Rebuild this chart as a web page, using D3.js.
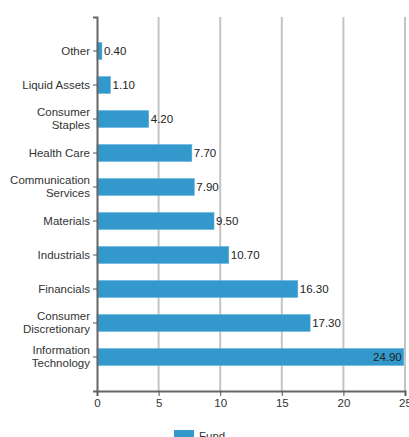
<!DOCTYPE html>
<html>
<head>
<meta charset="utf-8">
<script src="https://cdn.jsdelivr.net/npm/d3@7"></script>
<style>
  body { margin: 0; background: #fff; }
  text { font-family: "Liberation Sans", Arial, sans-serif; }
</style>
</head>
<body>
<div id="chart"></div>
<script>
const categories = ["Other", "Liquid Assets", "Consumer Staples", "Health Care",
  "Communication Services", "Materials", "Industrials", "Financials",
  "Consumer Discretionary", "Information Technology"];
const fundValues = [0.40, 1.10, 4.20, 7.70, 7.90, 9.50, 10.70, 16.30, 17.30, 24.90];
const xTicks = [0, 5, 10, 15, 20, 25];
const seriesName = "Fund";

const width = 409, height = 437;
const margin = {top: 17, right: 4, bottom: 46, left: 97};
const fontSize = 11.5;

const svg = d3.select("#chart")
  .append("svg")
  .attr("width", width)
  .attr("height", height);

const x = d3.scaleLinear()
  .domain([0, 25])
  .range([margin.left, width - margin.right]);

const y = d3.scaleBand()
  .domain(categories)
  .range([margin.top, height - margin.bottom])
  .paddingInner(0.5)
  .paddingOuter(0.75);

// grid lines
svg.append("g")
  .selectAll("line")
  .data(xTicks.slice(1))
  .join("line")
    .attr("x1", d => x(d))
    .attr("x2", d => x(d))
    .attr("y1", margin.top)
    .attr("y2", height - margin.bottom)
    .attr("stroke", "#c4c4c4")
    .attr("stroke-width", 2);

// bars
svg.append("g")
  .selectAll("rect")
  .data(fundValues)
  .join("rect")
    .attr("x", x(0))
    .attr("y", (d, i) => y(categories[i]))
    .attr("width", d => x(d) - x(0))
    .attr("height", y.bandwidth())
    .attr("fill", "#3399cc")
    .attr("stroke", "#5fb0dc")
    .attr("stroke-width", 0.5);

// value labels (inside the bar when it would run off the edge)
const inside = d => x(d) + 2 > width - 40;
svg.append("g")
  .selectAll("text")
  .data(fundValues)
  .join("text")
    .attr("x", d => inside(d) ? x(d) - 2 : x(d) + 2)
    .attr("y", (d, i) => y(categories[i]) + y.bandwidth() / 2)
    .attr("dy", "0.35em")
    .attr("text-anchor", d => inside(d) ? "end" : "start")
    .attr("font-size", fontSize)
    .attr("fill", "#222")
    .text(d => d.toFixed(2));

// axes
const xAxis = svg.append("g")
  .attr("transform", `translate(0,${height - margin.bottom})`)
  .call(d3.axisBottom(x).tickValues(xTicks).tickSize(5).tickPadding(3));

const yAxis = svg.append("g")
  .attr("transform", `translate(${margin.left},0)`)
  .call(d3.axisLeft(y).tickSize(4).tickPadding(3));

[xAxis, yAxis].forEach(g => {
  g.selectAll(".domain").attr("stroke", "#666").attr("stroke-width", 2);
  g.selectAll(".tick line").attr("stroke", "#555");
  g.selectAll(".tick text")
    .attr("font-size", fontSize)
    .attr("font-family", "'Liberation Sans', Arial, sans-serif")
    .attr("fill", "#333");
});

yAxis.selectAll(".tick text").call(wrap, 78);

function wrap(texts, maxWidth) {
  texts.each(function() {
    const t = d3.select(this);
    const words = t.text().split(/\s+/);
    const xPos = t.attr("x");
    const lines = [];
    let line = [];
    t.text(null);
    const probe = t.append("tspan");
    words.forEach(w => {
      line.push(w);
      probe.text(line.join(" "));
      if (probe.node().getComputedTextLength() > maxWidth && line.length > 1) {
        line.pop();
        lines.push(line.join(" "));
        line = [w];
      }
    });
    lines.push(line.join(" "));
    probe.remove();
    const lh = 1.13;
    const start = 0.32 - (lines.length - 1) * lh / 2;
    t.attr("dy", null);
    lines.forEach((l, i) => {
      t.append("tspan")
        .attr("x", xPos)
        .attr("dy", (i === 0 ? start : lh) + "em")
        .text(l);
    });
  });
}

// legend
const legend = svg.append("g")
  .attr("transform", `translate(174,430)`);
legend.append("rect")
  .attr("width", 20)
  .attr("height", 8)
  .attr("fill", "#3399cc");
legend.append("text")
  .attr("x", 25)
  .attr("y", 10)
  .attr("font-size", fontSize)
  .attr("fill", "#333")
  .text(seriesName);
</script>
</body>
</html>
